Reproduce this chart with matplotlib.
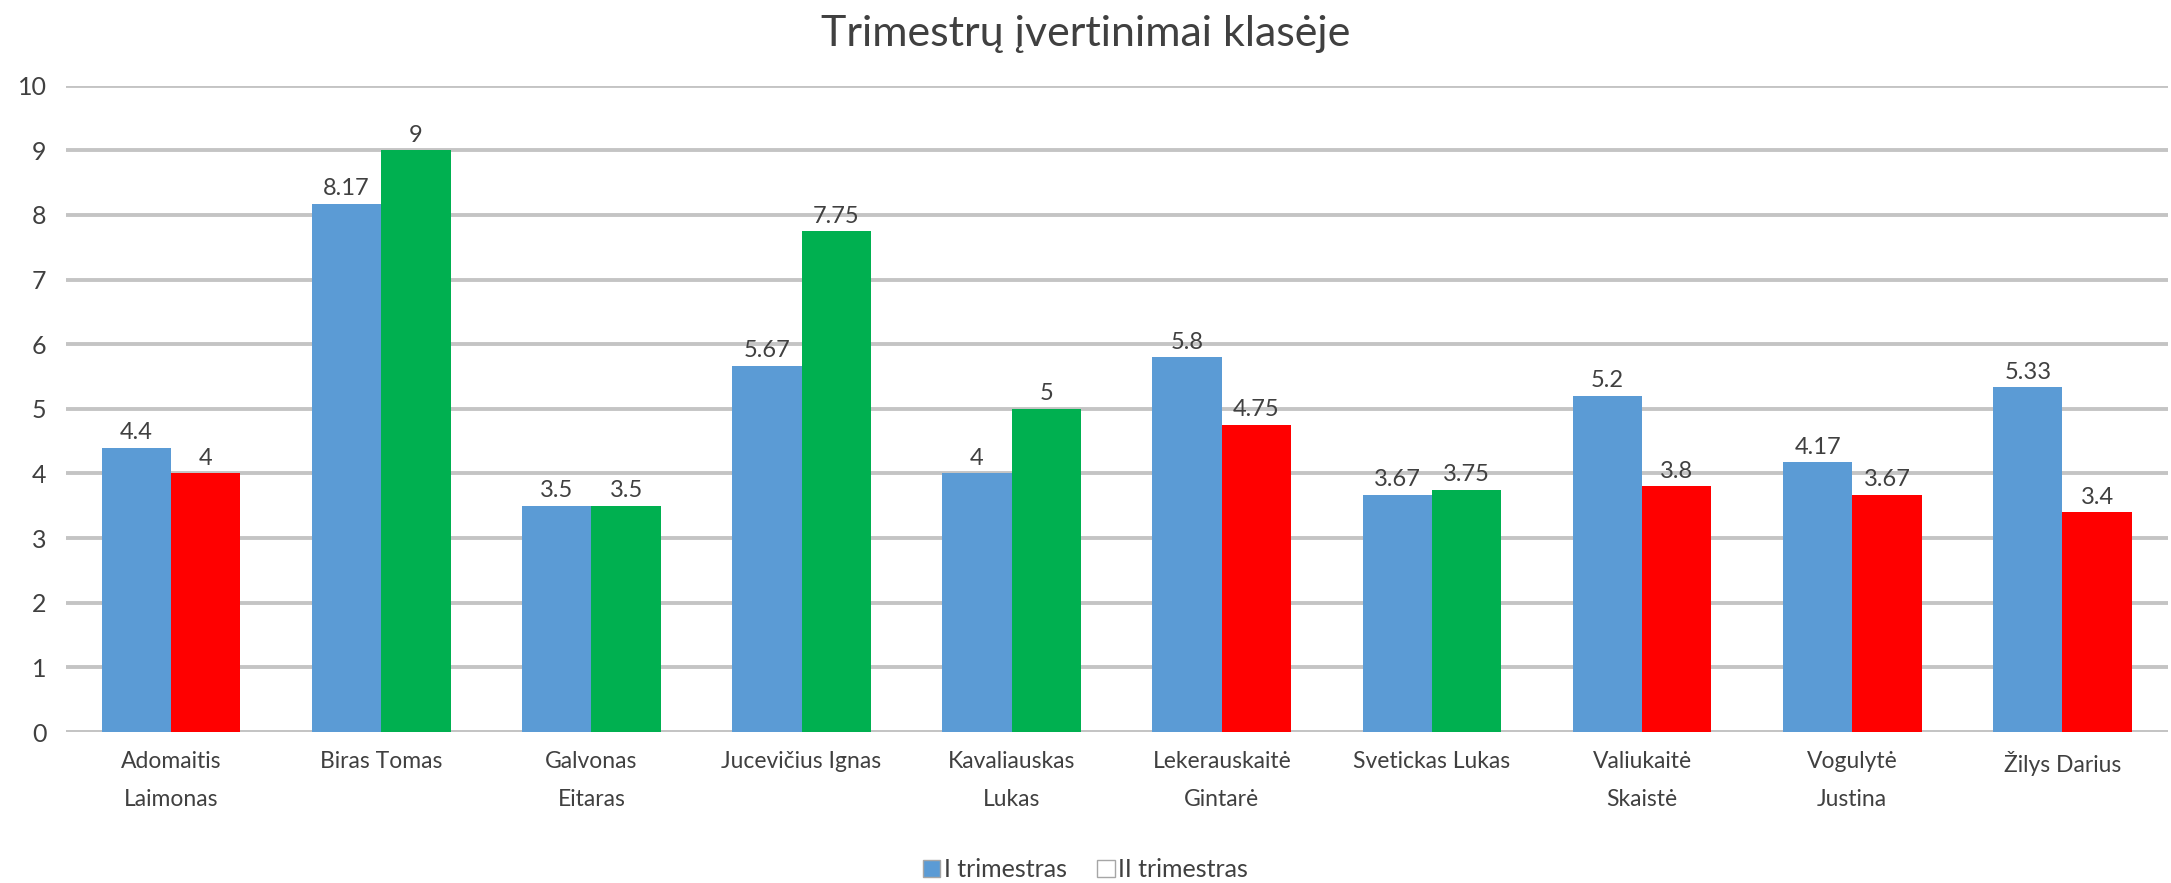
import matplotlib
matplotlib.use("Agg")
import matplotlib.pyplot as plt
import numpy as np
from matplotlib.patches import Patch

plt.rcParams['font.family'] = ['Lato', 'DejaVu Sans']

students = ["Adomaitis\nLaimonas", "Biras Tomas", "Galvonas\nEitaras", "Jucevičius Ignas",
            "Kavaliauskas\nLukas", "Lekerauskaitė\nGintarė", "Svetickas Lukas",
            "Valiukaitė\nSkaistė", "Vogulytė\nJustina", "Žilys Darius"]
trim1 = [4.4, 8.17, 3.5, 5.67, 4, 5.8, 3.67, 5.2, 4.17, 5.33]
trim2 = [4, 9, 3.5, 7.75, 5, 4.75, 3.75, 3.8, 3.67, 3.4]
series_names = ["I trimestras", "II trimestras"]
title = "Trimestrų įvertinimai klasėje"

BLUE = "#5B9BD5"
RED = "#FF0000"
GREEN = "#00B050"
GRID = "#C4C4C4"
TEXT = "#404040"

fig = plt.figure(figsize=(21.71, 8.83), dpi=100)
ax = fig.add_axes([0.0304, 0.171, 0.968, 0.732])

x = np.arange(len(students))
w = 0.33
colors2 = [GREEN if b >= a else RED for a, b in zip(trim1, trim2)]
b1 = ax.bar(x - w / 2, trim1, w, color=BLUE, zorder=3)
b2 = ax.bar(x + w / 2, trim2, w, color=colors2, zorder=3)

for bars, vals in ((b1, trim1), (b2, trim2)):
    for r, v in zip(bars, vals):
        ax.text(r.get_x() + r.get_width() / 2, v + 0.07, f"{v:g}",
                ha="center", va="bottom", fontsize=17, color=TEXT)

ax.set_xlim(-0.5, len(students) - 0.5)
ax.set_ylim(0, 10)
ax.set_yticks(range(0, 11))
ax.yaxis.grid(True, color=GRID, linewidth=2.8, zorder=0)
ax.set_axisbelow(True)
for s in ax.spines.values():
    s.set_visible(False)
ax.axhline(0, color=GRID, linewidth=2.8, zorder=2)
ax.tick_params(axis="both", length=0, colors=TEXT)
ax.tick_params(axis="y", pad=14, labelsize=18)
ax.tick_params(axis="x", pad=14, labelsize=16.5)
ax.set_xticks(x)
ax.set_xticklabels(students, linespacing=2.0)

fig.text(0.5, 0.962, title, ha="center", va="center", fontsize=31, color=TEXT)

handles = [Patch(facecolor=BLUE, edgecolor="#A6A6A6", label=series_names[0]),
           Patch(facecolor="white", edgecolor="#A6A6A6", label=series_names[1])]
fig.legend(handles=handles, loc="center", bbox_to_anchor=(0.5, 0.015), ncol=2,
           frameon=False, fontsize=18, handlelength=0.7, handleheight=0.7,
           handletextpad=0.15, columnspacing=1.2, labelcolor=TEXT)

fig.savefig("out.png", dpi=100)
